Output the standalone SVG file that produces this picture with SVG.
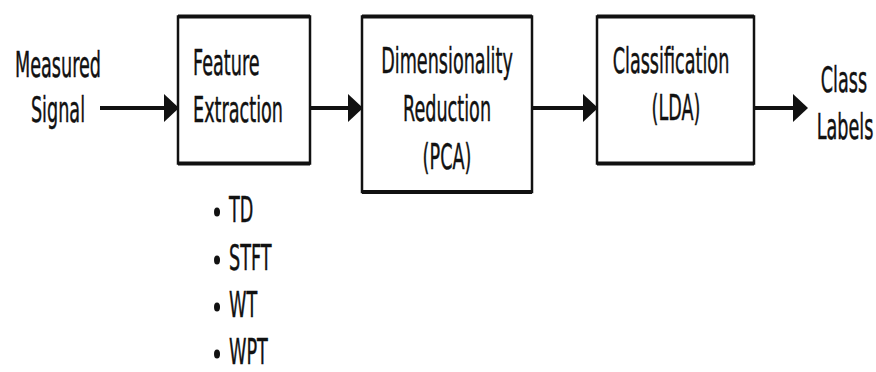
<svg xmlns="http://www.w3.org/2000/svg" width="876" height="372" viewBox="0 0 876 372">
  <style>
    .lbl { font-family: "DejaVu Sans", Verdana, sans-serif; font-size: 36px; fill: #111; stroke: #111; stroke-width: 0.5; }
    .dot { fill: #111; }
    .box { fill: #fff; stroke: #111; stroke-width: 2.5; }
    .edge { fill: none; stroke: #111; stroke-width: 4; }
    .wire { fill: none; stroke: #111; stroke-width: 4; marker-end: url(#head); }
  </style>
  <defs>
    <marker id="head" markerUnits="userSpaceOnUse" markerWidth="15" markerHeight="28" refX="7" refY="14" orient="auto" overflow="visible">
      <path d="M0,0 L15,14 L0,28 Z" fill="#111"/>
    </marker>
  </defs>
  <rect width="876" height="372" fill="#fff"/>

  <!-- input label -->
  <g id="input">
    <text class="lbl" text-anchor="middle" transform="translate(58,77) scale(0.49,1)">Measured</text>
    <text class="lbl" text-anchor="middle" transform="translate(58,122) scale(0.49,1)">Signal</text>
  </g>

  <!-- feature extraction block with its method list -->
  <g id="feature-extraction">
    <rect class="box" x="178" y="16.5" width="132" height="147"/>
    <path class="edge" d="M178,16.5 H310 M178,163.5 H310"/>
    <text class="lbl" transform="translate(193,75) scale(0.49,1)">Feature</text>
    <text class="lbl" transform="translate(193,122) scale(0.49,1)">Extraction</text>
  </g>
  <g id="methods">
    <ellipse class="dot" cx="217" cy="212" rx="3" ry="4.5"/>
    <ellipse class="dot" cx="217" cy="260" rx="3" ry="4.5"/>
    <ellipse class="dot" cx="217" cy="307" rx="3" ry="4.5"/>
    <ellipse class="dot" cx="217" cy="354" rx="3" ry="4.5"/>
    <text class="lbl" transform="translate(229,222) scale(0.49,1)">TD</text>
    <text class="lbl" transform="translate(229,270) scale(0.49,1)">STFT</text>
    <text class="lbl" transform="translate(229,317) scale(0.49,1)">WT</text>
    <text class="lbl" transform="translate(229,364) scale(0.49,1)">WPT</text>
  </g>

  <!-- dimensionality reduction block -->
  <g id="dimensionality-reduction">
    <rect class="box" x="362" y="16.5" width="170" height="175.5"/>
    <path class="edge" d="M362,16.5 H532 M362,192 H532"/>
    <text class="lbl" text-anchor="middle" transform="translate(447,73) scale(0.49,1)">Dimensionality</text>
    <text class="lbl" text-anchor="middle" transform="translate(447,121) scale(0.49,1)">Reduction</text>
    <text class="lbl" text-anchor="middle" transform="translate(447,169) scale(0.49,1)">(PCA)</text>
  </g>

  <!-- classification block -->
  <g id="classification">
    <rect class="box" x="597" y="16.5" width="157" height="147"/>
    <path class="edge" d="M597,16.5 H754 M597,163.5 H754"/>
    <text class="lbl" text-anchor="middle" transform="translate(671,73) scale(0.49,1)">Classification</text>
    <text class="lbl" text-anchor="middle" transform="translate(676,120) scale(0.49,1)">(LDA)</text>
  </g>

  <!-- output label -->
  <g id="output">
    <text class="lbl" text-anchor="middle" transform="translate(844,92) scale(0.49,1)">Class</text>
    <text class="lbl" text-anchor="middle" transform="translate(845,139) scale(0.49,1)">Labels</text>
  </g>

  <!-- connectors -->
  <g id="connectors">
    <path class="wire" d="M100,108 H171"/>
    <path class="wire" d="M311,108 H355"/>
    <path class="wire" d="M533,108 H590"/>
    <path class="wire" d="M755,108 H800"/>
  </g>
</svg>
